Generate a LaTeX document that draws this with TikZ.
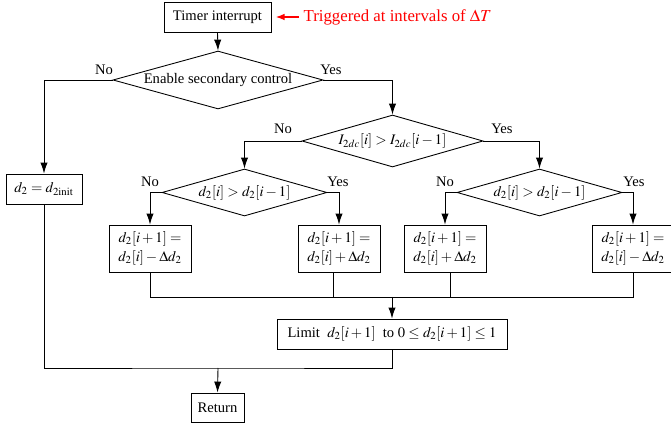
\documentclass[tikz,border=0pt]{standalone}
\usepackage{mathptmx}
\usepackage{fontspec}
\setmainfont{Liberation Serif}
\usetikzlibrary{shapes.geometric,arrows.meta}

\begin{document}
\begin{tikzpicture}[x=0.685pt,y=-0.685pt,
        font=\fontsize{10}{13}\selectfont,
        box/.style={draw, line width=0.6pt, inner sep=2pt, minimum height=20.6pt, align=center},
        update/.style={box, minimum width=56.2pt, minimum height=32.2pt},
        decision/.style={draw, diamond, line width=0.6pt, inner sep=0pt},
        arrow/.style={line width=0.6pt, -{Latex[length=7.5pt,width=5pt]}},
        line/.style={line width=0.6pt},
        lbl/.style={inner sep=0pt}]
        \useasboundingbox (0,0) rectangle (671,428);

        % Coordinates
        \coordinate (mrg) at (392,297);
        \coordinate (jn) at (218,368);

        % Nodes
        \node[box, minimum width=73.3pt] (timer) at (217.5,17) {Timer interrupt};
        \node[red, font=\fontsize{11.5}{14}\selectfont, anchor=west, inner sep=3pt] (trig) at (299,17) {Triggered at intervals of $\Delta T$};
        \node[decision, shape aspect=3.62, minimum width=143.9pt, minimum height=39.7pt] (en) at (218,80) {Enable secondary control};
        \node[decision, shape aspect=3.48, minimum width=124pt, minimum height=35.6pt] (cur) at (392.5,141) {$I_{2dc}[i] > I_{2dc}[i-1]$};
        \node[decision, shape aspect=3.5, minimum width=113pt, minimum height=32.2pt] (dl) at (244.5,192.5) {$d_2[i] > d_2[i-1]$};
        \node[decision, shape aspect=3.5, minimum width=113pt, minimum height=32.2pt] (dr) at (539.5,192.5) {$d_2[i] > d_2[i-1]$};
        \node[box, minimum width=52.1pt] (init) at (44,189) {$d_2 = d_{2\mathrm{init}}$};
        \node[update] (decL) at (150,248.5) {$d_2[i+1] =$\\$d_2[i] - \Delta d_2$};
        \node[update] (incL) at (339,248.5) {$d_2[i+1] =$\\$d_2[i] + \Delta d_2$};
        \node[update] (incR) at (445,248.5) {$d_2[i+1] =$\\$d_2[i] + \Delta d_2$};
        \node[update] (decR) at (633,248.5) {$d_2[i+1] =$\\$d_2[i] - \Delta d_2$};
        \node[box, minimum width=157.6pt] (lim) at (392,334) {Limit\enspace$d_2[i+1]$\enspace to $0 \le d_2[i+1] \le 1$};
        \node[box, minimum width=36.3pt, minimum height=19.9pt] (ret) at (217.5,407.5) {Return};

        % Labels
        \node[lbl] (en-no) at (104,70) {No};
        \node[lbl] (en-yes) at (331,70) {Yes};
        \node[lbl] (cur-no) at (283,129) {No};
        \node[lbl] (cur-yes) at (502,129) {Yes};
        \node[lbl] (dl-no) at (150,182) {No};
        \node[lbl] (dl-yes) at (338,182) {Yes};
        \node[lbl] (dr-no) at (445,182) {No};
        \node[lbl] (dr-yes) at (634,182) {Yes};

        % Drawing
        \draw[red, line width=0.8pt, -{Latex[length=6pt,width=4.5pt]}, shorten >=3pt] (trig.west) -- (timer.east);
        \draw[arrow] (timer.south) -- (en.north);
        \draw[arrow] (en.west) -| (init.north);
        \draw[arrow] (en.east) -| (cur.north);
        \draw[arrow] (cur.west) -| (dl.north);
        \draw[arrow] (cur.east) -| (dr.north);
        \draw[arrow] (dl.west) -| (decL.north);
        \draw[arrow] (dl.east) -| (incL.north);
        \draw[arrow] (dr.west) -| (incR.north);
        \draw[arrow] (dr.east) -| (decR.north);
        \draw[line] (decL.south) |- (mrg);
        \draw[line] ([xshift=-4pt]incL.south) |- (mrg);
        \draw[line] ([xshift=4pt]incR.south) |- (mrg);
        \draw[line] (decR.south) |- (mrg);
        \draw[arrow] (mrg) -- (lim.north);
        \draw[line] (init.south) |- (jn) -| (lim.south);
        \draw[arrow] (jn) -- (ret.north);
\end{tikzpicture}
\end{document}
